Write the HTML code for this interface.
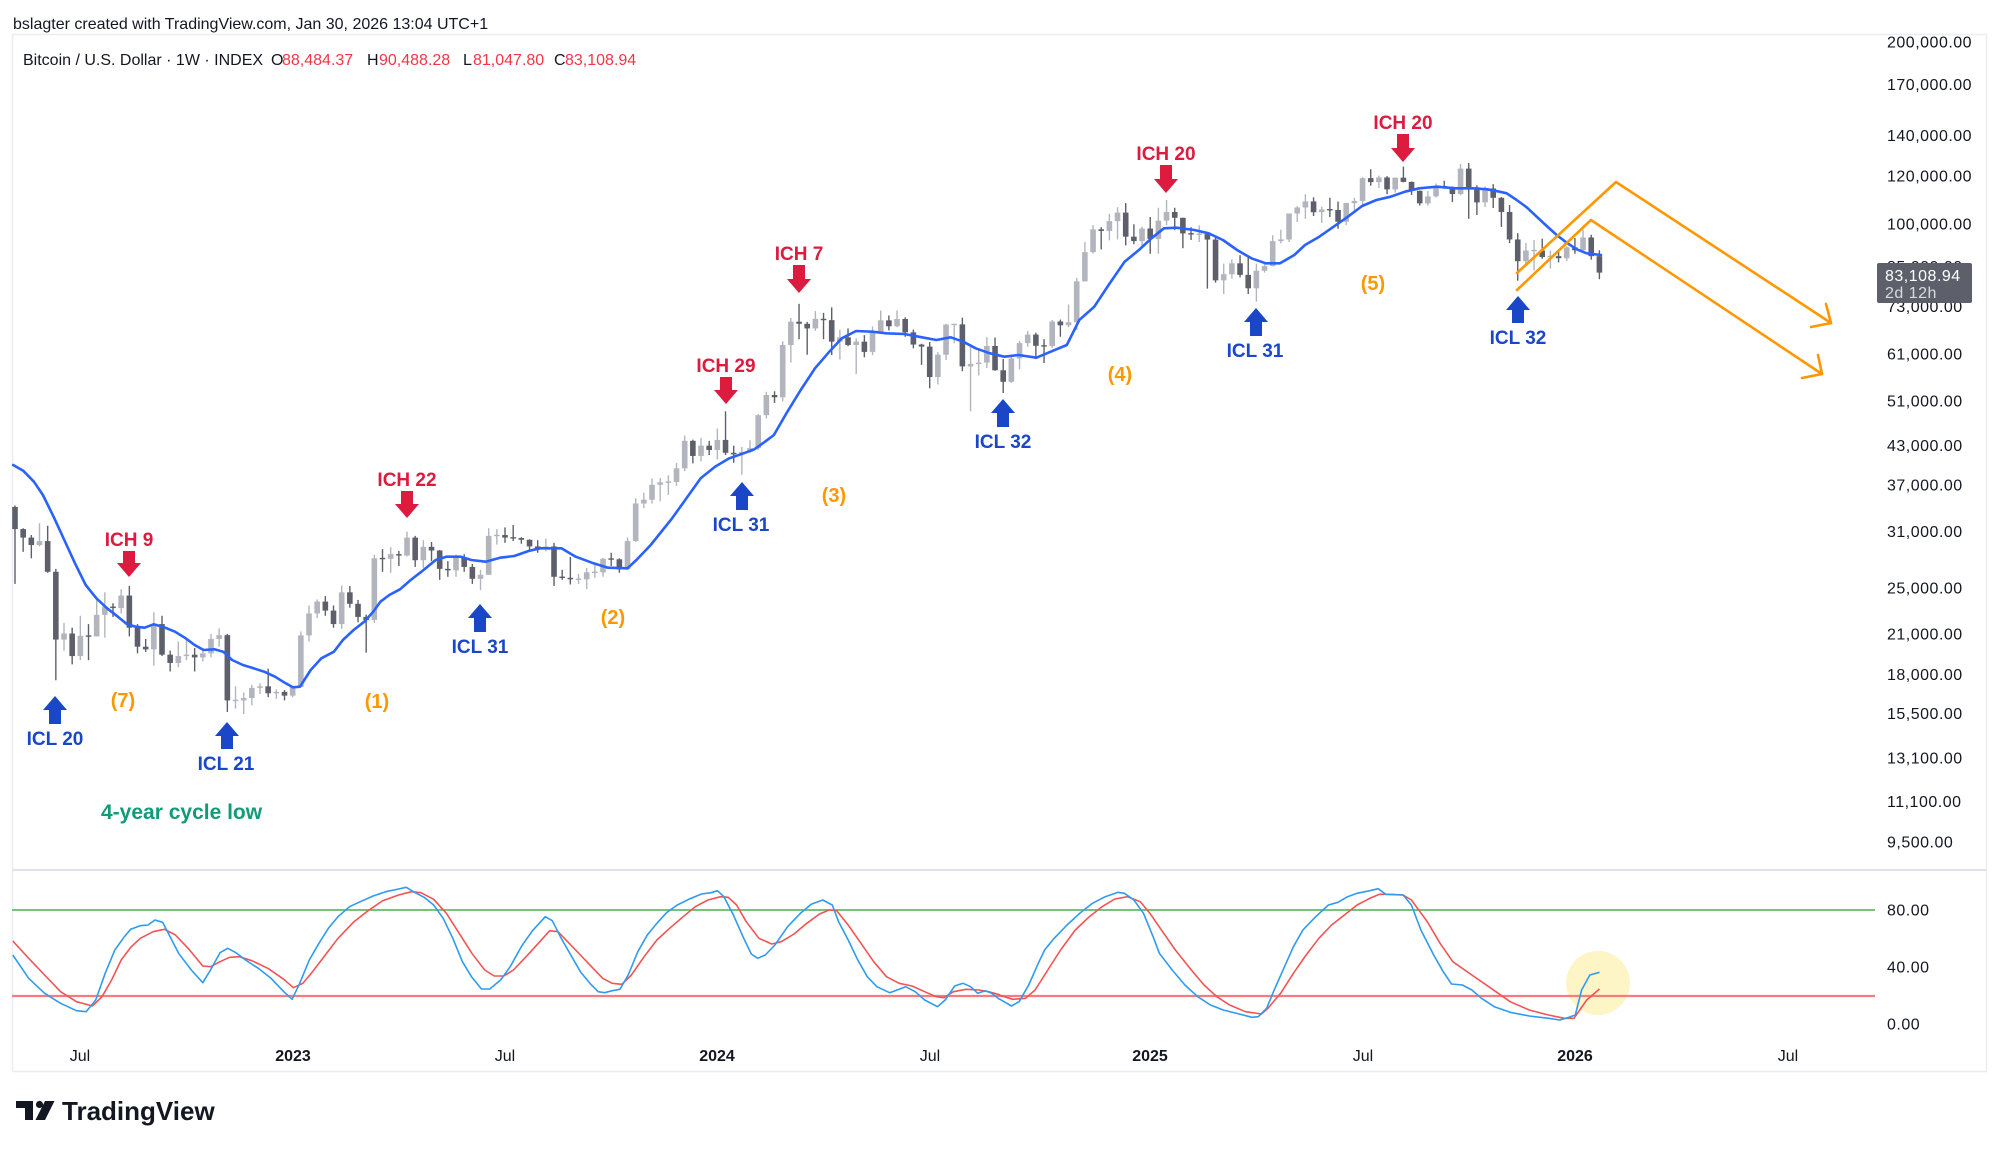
<!DOCTYPE html>
<html><head><meta charset="utf-8">
<style>
html,body{margin:0;padding:0;background:#fff;}
svg{display:block;font-family:"Liberation Sans",Arial,sans-serif;}
</style></head>
<body>
<svg id="c" width="2000" height="1150" viewBox="0 0 2000 1150" xmlns="http://www.w3.org/2000/svg">
<rect width="2000" height="1150" fill="#fff"/>
<text x="13" y="29" font-size="16" fill="#131722">bslagter created with TradingView.com, Jan 30, 2026 13:04 UTC+1</text>
<rect x="12.5" y="34.5" width="1974" height="1037" fill="none" stroke="#eaedf2" stroke-width="1.5"/>
<line x1="12" y1="870" x2="1987" y2="870" stroke="#e0e3eb" stroke-width="2"/>

<text y="65" font-size="16" fill="#131722"><tspan x="23">Bitcoin / U.S. Dollar · 1W · INDEX</tspan><tspan x="271">O</tspan><tspan x="282" fill="#f23645">88,484.37</tspan><tspan x="367">H</tspan><tspan x="379" fill="#f23645">90,488.28</tspan><tspan x="463">L</tspan><tspan x="473" fill="#f23645">81,047.80</tspan><tspan x="554">C</tspan><tspan x="565" fill="#f23645">83,108.94</tspan></text>

<!-- price axis labels -->
<g font-size="16" fill="#131722" letter-spacing="0.5">
<text x="1887" y="47.5">200,000.00</text>
<text x="1887" y="90.2">170,000.00</text>
<text x="1887" y="141.2">140,000.00</text>
<text x="1887" y="181.7">120,000.00</text>
<text x="1887" y="229.5">100,000.00</text>
<text x="1887" y="272.2">85,000.00</text>
<text x="1887" y="312.2">73,000.00</text>
<text x="1887" y="359.3">61,000.00</text>
<text x="1887" y="406.4">51,000.00</text>
<text x="1887" y="451.2">43,000.00</text>
<text x="1887" y="490.6">37,000.00</text>
<text x="1887" y="537.1">31,000.00</text>
<text x="1887" y="593.6">25,000.00</text>
<text x="1887" y="639.4">21,000.00</text>
<text x="1887" y="679.9">18,000.00</text>
<text x="1887" y="719.1">15,500.00</text>
<text x="1887" y="763.3">13,100.00</text>
<text x="1887" y="806.8">11,100.00</text>
<text x="1887" y="847.7">9,500.00</text>
<text x="1887" y="915.5">80.00</text>
<text x="1887" y="972.7">40.00</text>
<text x="1887" y="1029.7">0.00</text>
</g>
<rect x="1877" y="263" width="95" height="40" rx="2" fill="#5d606b"/>
<text x="1885" y="281" font-size="16" fill="#ffffff" letter-spacing="0.5">83,108.94</text>
<text x="1885" y="298" font-size="16" fill="#d8dae0" letter-spacing="0.5">2d 12h</text>

<!-- time axis -->
<g font-size="16" fill="#131722" text-anchor="middle">
<text x="80" y="1061">Jul</text>
<text x="293" y="1061" font-weight="bold">2023</text>
<text x="505" y="1061">Jul</text>
<text x="717" y="1061" font-weight="bold">2024</text>
<text x="930" y="1061">Jul</text>
<text x="1150" y="1061" font-weight="bold">2025</text>
<text x="1363" y="1061">Jul</text>
<text x="1575" y="1061" font-weight="bold">2026</text>
<text x="1788" y="1061">Jul</text>
</g>

<!-- oscillator static -->
<circle cx="1598" cy="983" r="32" fill="#fdf4bf" opacity="0.9"/>
<line x1="12" y1="910" x2="1875" y2="910" stroke="#4caf50" stroke-width="1.5"/>
<line x1="12" y1="996" x2="1875" y2="996" stroke="#f77c80" stroke-width="2.2"/>
<g id="osc"></g>

<g id="candles"></g>
<g id="sma"></g>

<!-- orange projection lines -->
<g fill="none" stroke="#ff9800" stroke-width="2.6" stroke-linecap="round" stroke-linejoin="round">
<polyline points="1517,273 1616,182 1831,323"/>
<polyline points="1826,304 1831,323 1811,327"/>
<polyline points="1517,290 1591,220 1822,374"/>
<polyline points="1818,355 1822,374 1802,378"/>
</g>

<g id="ann"></g>
<g font-weight="bold" font-size="19" text-anchor="middle">
<text x="55" y="745" fill="#1a47c8">ICL 20</text>
<text x="226" y="770" fill="#1a47c8">ICL 21</text>
<text x="480" y="653" fill="#1a47c8">ICL 31</text>
<text x="741" y="531" fill="#1a47c8">ICL 31</text>
<text x="1003" y="448" fill="#1a47c8">ICL 32</text>
<text x="1255" y="357" fill="#1a47c8">ICL 31</text>
<text x="1518" y="344" fill="#1a47c8">ICL 32</text>
<text x="129" y="546" fill="#dd1b3f">ICH 9</text>
<text x="407" y="486" fill="#dd1b3f">ICH 22</text>
<text x="726" y="372" fill="#dd1b3f">ICH 29</text>
<text x="799" y="260" fill="#dd1b3f">ICH 7</text>
<text x="1166" y="160" fill="#dd1b3f">ICH 20</text>
<text x="1403" y="129" fill="#dd1b3f">ICH 20</text>
</g>
<g font-weight="bold" font-size="20" text-anchor="middle" fill="#ff9800">
<text x="123" y="707">(7)</text>
<text x="377" y="708">(1)</text>
<text x="613" y="624">(2)</text>
<text x="834" y="502">(3)</text>
<text x="1120" y="381">(4)</text>
<text x="1373" y="290">(5)</text>
</g>
<text x="101" y="819" font-weight="bold" font-size="21" fill="#129a7a">4-year cycle low</text>

<!-- TradingView logo -->
<g fill="#131722">
<rect x="16" y="1101" width="17" height="7"/>
<rect x="25" y="1101" width="8" height="19"/>
<circle cx="39.5" cy="1104.5" r="3.6"/>
<polygon points="45,1101 54.5,1101 45,1120 35.5,1120"/>
<text x="62" y="1120" font-size="26" font-weight="bold">TradingView</text>
</g>
</svg>
<script>
(function(){
const NS="http://www.w3.org/2000/svg";
function el(tag,attrs,parent){const e=document.createElementNS(NS,tag);for(const k in attrs)e.setAttribute(k,attrs[k]);parent.appendChild(e);return e;}
const X=i=>15+i*8.167, Y=p=>42+(5.30103-Math.log10(p))*604.7;
const D=[[34240,25400,31300],[31400,28700,30300],[30600,28000,29450],[32000,29300,29900],[31700,26500,26600],[26900,17600,20550],[21900,19700,21030],[21500,18700,19300],[22500,19000,20850],[21800,19000,20800],
[24200,20800,22580],[24600,20700,23300],[23600,22400,23170],[24900,22700,24300],[25200,20800,21500],[21800,19500,20000],[20600,19600,19800],[22800,18600,21800],[22500,19300,19400],[19700,18200,18800],
[20400,18500,19300],[20500,19000,19400],[19900,18200,19200],[19700,18900,19500],[21000,19200,20600],[21450,20000,20900],[21000,15600,16300],[17200,15800,16300],[16800,15480,16450],[17300,16000,17100],
[17400,16700,17200],[18400,16500,16750],[17000,16400,16840],[16950,16300,16600],[17200,16500,17150],[21200,17200,20880],[23400,20400,22700],[23950,22300,23750],[24250,22500,22950],[23400,21500,21800],
[25250,21400,24600],[25200,23200,23550],[23900,21950,22400],[22600,19550,22150],[28400,21900,28000],[29000,26600,27950],[29200,26500,28450],[28800,27200,28300],[31000,28200,30300],[30500,27100,27800],
[30000,27000,29250],[29800,27700,28850],[28900,25800,26900],[27700,26100,26750],[28400,26100,28050],[28450,26600,27100],[27400,25400,25900],[26800,24800,26300],[31400,26300,30500],[31300,29500,30600],
[31500,29700,30300],[31800,29900,30250],[30350,29600,30050],[30100,28900,29300],[30000,28600,29050],[30200,28750,29300],[29700,25200,26100],[26800,25800,26000],[28150,25350,25850],[26400,25400,25850],
[27000,24900,26550],[27450,26000,26550],[28050,26100,27950],[28600,27200,27900],[28000,26500,26850],[30300,26800,29900],[35200,29800,34500],[35950,33900,35000],[37950,34500,37050],[38000,34800,37400],
[38400,35650,37450],[40250,36900,39450],[44700,39000,43800],[44000,40200,41350],[44300,40500,43000],[43800,41500,42300],[45900,40800,43950],[49000,41500,41850],[43000,40300,41600],[42800,38500,42000],
[43900,41800,42600],[48500,42300,48300],[52800,47700,52150],[52900,50600,51700],[64000,50900,63100],[69900,59000,68950],[73800,64500,68400],[68900,60800,67200],[71800,66600,69700],[71300,64500,69350],
[72800,60700,63900],[66900,59700,64950],[67200,62800,63100],[64700,56500,63900],[65500,60200,61450],[67700,60700,66250],[71950,66300,69300],[70600,66700,67750],[72000,67500,69650],[70100,65100,66200],
[66900,62300,63200],[63400,58500,62700],[63800,53500,55850],[61400,54300,60800],[68400,59600,68200],[68200,63500,68250],[70000,57100,58150],[62700,49000,58700],[61800,56200,59000],[65000,57800,62850],
[64900,57200,57300],[59800,52550,54850],[60600,54600,59950],[64100,57500,63550],[66500,62700,65650],[66100,59800,62900],[64500,58900,62850],[69400,62400,69000],[69500,65100,68000],[73600,67500,68800],
[81500,66800,80400],[93400,80300,89850],[99600,89400,98000],[98800,90800,97400],[104000,94000,101100],[106600,94300,104450],[108300,92200,95300],[99900,92600,93700],[99000,91500,98300],[102700,89300,94500],
[106400,89300,101300],[109600,99500,104700],[106400,97800,102400],[102400,91200,96500],[98800,94100,96150],[99500,93400,96250],[96500,78200,94250],[95000,80000,80700],[86000,76600,82600],[87400,81200,86100],
[88800,81600,82400],[88500,76600,78300],[86000,74400,83700],[86500,83100,85200],[95800,85100,93700],[97900,92900,94300],[104100,93400,104100],[107000,100800,106500],[112000,102000,109000],[110700,103100,104600],
[106800,100400,105700],[110500,102700,105500],[108900,98200,100900],[108500,99600,108300],[110500,105100,109200],[119500,107500,119100],[123200,115700,117300],[120200,114700,119400],[120000,112000,114100],[119400,112700,119300],
[124450,117200,117400],[117600,111700,113500],[113600,107300,108200],[113400,107300,111100],[116700,110600,115300],[117900,114400,115200],[115400,108700,112100],[125700,111600,123500],[126200,102000,115000],[115900,103500,108600],
[115400,106700,114500],[116400,106300,110500],[110800,98900,104700],[107500,93000,94300],[96600,80600,86800],[93100,85300,90400],[94100,83800,90400],[94600,87600,88200],[90400,84400,88500],[90600,86400,87800],
[91900,86900,91500],[94800,89300,90500],[97900,90000,95000],[96000,87300,88484],[90488,81048,83109]];
const gC=document.getElementById('candles');
let o=34060;
D.forEach((d,i)=>{const h=d[0],l=d[1],c=d[2];const up=c>=o;const col=up?'#b2b5be':'#5d606b';const x=X(i);
el('line',{x1:x,x2:x,y1:Y(Math.max(h,o,c)),y2:Y(Math.min(l,o,c)),stroke:col,'stroke-width':1.4},gC);
let y1=Y(Math.max(o,c)),y2=Y(Math.min(o,c));if(y2-y1<1.4){const m=(y1+y2)/2;y1=m-0.7;y2=m+0.7;}
el('rect',{x:x-2.8,y:y1,width:5.6,height:y2-y1,fill:col},gC);o=c;});

function tr(arr,fx,fy){return arr.map(p=>[fx(p[0]),fy(p[1])]);}
function pl(pts){return pts.map(p=>p[0].toFixed(1)+','+p[1].toFixed(1)).join(' ');}
// SMA
const z6=[[37,75],[65,92],[95,125],[120,165],[150,230],[180,300],[210,370],[240,435],[270,475],[300,505],[330,530],[355,552],[380,560],[405,563],[430,553],[460,562],[490,575],[520,595],[545,615],[570,630],[600,628],[625,635],[650,660],[680,675],[710,685],[740,695],[770,710],[800,730],[820,742],[840,740],[870,690],[900,655],[935,635],[960,600],[990,570],[1020,545],[1045,515],[1065,485],[1090,465],[1120,448],[1150,420],[1180,395],[1220,360],[1250,350],[1290,350],[1320,360],[1360,365],[1400,353],[1440,348],[1480,333]];
const z7=[[0,985],[60,985],[100,1010],[150,1030],[190,1043],[245,1045],[270,1020],[310,975],[370,895],[420,820],[450,775],[490,740],[530,715],[570,700],[600,688],[630,665],[655,645],[690,580],[730,510],[770,445],[810,395],[845,355],[885,333],[930,335],[970,340],[1020,342],[1060,350],[1110,360],[1150,352],[1185,365],[1220,385],[1260,400],[1300,410],[1340,405],[1390,413],[1430,395],[1475,375],[1510,300]];
const z8=[[40,620],[80,555],[125,485],[165,450],[200,415],[235,385],[270,383],[320,390],[360,400],[400,420],[440,450],[480,475],[520,490],[560,490],[600,465],[630,435],[670,410],[710,380],[750,350],[790,318],[830,300],[870,290],[910,275],[950,265],[1000,260],[1050,265],[1100,265],[1140,268],[1175,275]];
const z9=[[200,130],[230,150],[260,172],[290,200],[320,228],[350,255],[380,278],[410,298],[440,310],[483,315]];
const sma=[].concat(tr(z6,x=>x/2.8,y=>440+y/3),tr(z7,x=>540+x/2.8,y=>220+y/3),tr(z8,x=>1080+x/2.8,y=>100+y/3),tr(z9,x=>1440+x/3,y=>150+y/3));
el('polyline',{points:pl(sma),fill:'none',stroke:'#2962ff','stroke-width':2.6,'stroke-linejoin':'round','stroke-linecap':'round'},document.getElementById('sma'));
// oscillator
const kA=[[20,285],[45,355],[70,400],[95,430],[120,452],[135,455],[150,420],[165,340],[180,270],[195,230],[205,208],[220,197],[232,195],[243,180],[255,187],[268,235],[280,280],[300,330],[318,368],[330,330],[345,278],[357,265],[370,278],[385,300],[405,325],[425,355],[445,395],[458,418],[470,370],[485,300],[500,250],[515,205],[530,170],[548,140],[565,125],[585,108],[605,95],[625,87],[637,82],[650,97],[665,112],[680,135],[695,175],[710,235],[725,305],[740,352],[755,387],[768,387],[785,360],[800,320],[818,258],[835,212],[855,170],[866,182],[880,235],[895,285],[910,335],[925,370],[938,395],[948,398],[960,392],[972,388],[985,345],[1000,275],[1015,225],[1030,190],[1045,158],[1062,135],[1080,118],[1100,102],[1115,98],[1125,92],[1135,110],[1150,165],[1165,230],[1178,282],[1188,295],[1200,285],[1215,255],[1235,200],[1255,160],[1272,133],[1290,120],[1305,135],[1315,185],[1330,240],[1345,300],[1360,350],[1375,380],[1395,398],[1410,388],[1420,380],[1435,395],[1450,420],[1470,440],[1482,420],[1497,378],[1510,370],[1522,380],[1533,400],[1545,392],[1555,400],[1567,418]];
const kB=[[0,418],[18,438],[30,425],[45,375],[60,310],[70,270],[85,235],[105,195],[125,160],[145,130],[165,110],[185,97],[195,100],[210,120],[225,160],[240,230],[250,280],[270,330],[290,375],[310,410],[330,435],[350,450],[375,462],[395,472],[405,470],[418,445],[430,390],[445,325],[460,260],[475,210],[495,170],[515,135],[530,127],[545,110],[560,100],[580,92],[593,86],[605,103],[632,105],[645,135],[660,210],[680,285],[695,335],[708,372],[725,375],[740,390],[755,415],[775,440],[800,457],[830,468],[860,475],[878,480],[892,472],[902,465],[912,390],[925,345],[940,337]];
const dA=[[20,243],[45,295],[70,345],[95,395],[120,425],[145,438],[160,410],[175,360],[190,300],[205,262],[220,235],[240,215],[258,208],[275,225],[295,265],[318,318],[330,320],[345,305],[360,292],[375,290],[395,302],[420,325],[445,358],[460,383],[475,370],[490,335],[510,285],[530,235],[555,185],[575,155],[600,122],[625,105],[645,95],[660,98],[680,118],[700,160],[720,220],[740,280],[760,330],[775,348],[790,348],[805,330],[825,290],[845,248],[862,212],[875,215],[890,245],[910,285],[930,325],[945,355],[960,370],[975,373],[990,345],[1010,290],[1030,240],[1050,205],[1070,172],[1090,140],[1110,120],[1130,110],[1142,112],[1155,135],[1170,185],[1190,235],[1210,252],[1225,245],[1245,222],[1265,190],[1285,162],[1300,150],[1312,152],[1330,195],[1350,250],[1370,305],[1390,350],[1410,370],[1430,378],[1450,395],[1468,410],[1480,413],[1495,395],[1515,388],[1535,390],[1550,395],[1567,404]];
const dB=[[0,406],[20,418],[40,415],[55,390],[75,330],[95,270],[118,210],[140,170],[160,140],[180,117],[200,110],[220,125],[235,160],[255,215],[275,270],[300,330],[320,375],[340,410],[360,435],[385,455],[410,462],[420,445],[440,400],[460,340],[480,285],[500,235],[520,195],[540,165],[560,135],[580,115],[595,103],[610,103],[632,105],[645,120],[670,185],[690,250],[710,305],[740,345],[770,385],[800,425],[830,450],[860,465],[885,475],[900,475],[920,420],[940,387]];
const fyO=y=>860+y/3;
const K=[].concat(tr(kA,x=>x/1.568,fyO),tr(kB,x=>1000+x/1.568,fyO));
const Dd=[].concat(tr(dA,x=>x/1.568,fyO),tr(dB,x=>1000+x/1.568,fyO));
const gO=document.getElementById('osc');
el('polyline',{points:pl(Dd),fill:'none',stroke:'#f25454','stroke-width':1.6,'stroke-linejoin':'round'},gO);
el('polyline',{points:pl(K),fill:'none',stroke:'#2f9bf0','stroke-width':1.6,'stroke-linejoin':'round'},gO);
// arrows
const gA=document.getElementById('ann');
function up(cx,top,bot){el('path',{d:`M${cx},${top} L${cx+12},${top+14} L${cx+6},${top+14} L${cx+6},${bot} L${cx-6},${bot} L${cx-6},${top+14} L${cx-12},${top+14} Z`,fill:'#1a47c8'},gA);}
function dn(cx,top,tip){el('path',{d:`M${cx-6},${top} L${cx+6},${top} L${cx+6},${tip-14} L${cx+12},${tip-14} L${cx},${tip} L${cx-12},${tip-14} L${cx-6},${tip-14} Z`,fill:'#dd1b3f'},gA);}
up(55,696,724);up(227,722,749);up(480,604,632);up(742,482,510);up(1003,399,427);up(1256,308,336);up(1518,296,323);
dn(129,551,577);dn(407,491,518);dn(726,377,404);dn(799,265,293);dn(1166,165,193);dn(1403,134,162);
})();
</script>
</body></html>
